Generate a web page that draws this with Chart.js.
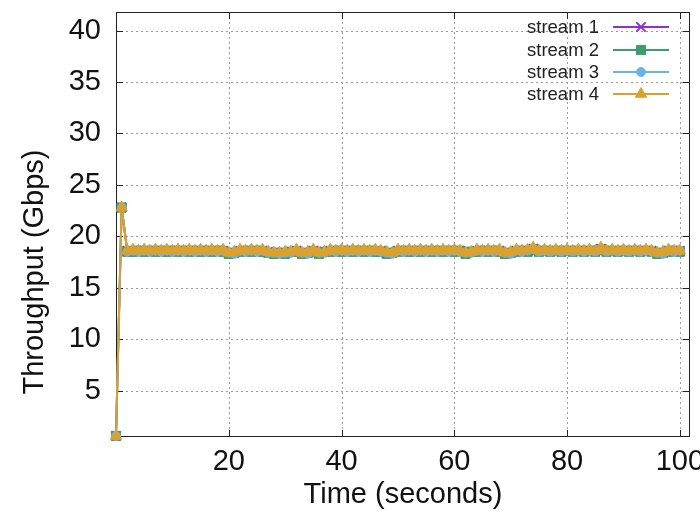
<!DOCTYPE html>
<html><head><meta charset="utf-8">
<script src="https://cdn.jsdelivr.net/npm/chart.js@4.4.1/dist/chart.umd.min.js"></script>
<style>html,body{margin:0;padding:0;background:#fff}</style>
</head><body>
<canvas id="c" width="700" height="513"></canvas>
<script>
const timeSec = [0,1,2,3,4,5,6,7,8,9,10,11,12,13,14,15,16,17,18,19,20,21,22,23,24,25,26,27,28,29,30,31,32,33,34,35,36,37,38,39,40,41,42,43,44,45,46,47,48,49,50,51,52,53,54,55,56,57,58,59,60,61,62,63,64,65,66,67,68,69,70,71,72,73,74,75,76,77,78,79,80,81,82,83,84,85,86,87,88,89,90,91,92,93,94,95,96,97,98,99,100];
const stream1 = [0.6,22.8,18.6,18.6,18.6,18.6,18.6,18.6,18.6,18.6,18.6,18.6,18.6,18.6,18.6,18.6,18.6,18.6,18.6,18.6,18.4,18.4,18.6,18.6,18.6,18.6,18.6,18.5,18.4,18.4,18.4,18.5,18.6,18.4,18.4,18.6,18.4,18.5,18.6,18.6,18.6,18.6,18.6,18.6,18.6,18.6,18.6,18.6,18.4,18.4,18.6,18.6,18.6,18.6,18.6,18.6,18.6,18.6,18.6,18.6,18.6,18.6,18.4,18.5,18.6,18.6,18.6,18.6,18.6,18.4,18.4,18.6,18.6,18.6,18.8,18.6,18.6,18.6,18.6,18.6,18.6,18.6,18.6,18.6,18.6,18.6,18.8,18.6,18.6,18.6,18.6,18.6,18.6,18.6,18.6,18.6,18.4,18.4,18.6,18.6,18.6];
const stream2 = [0.6,22.8,18.5,18.5,18.6,18.5,18.6,18.5,18.6,18.5,18.6,18.5,18.6,18.5,18.6,18.5,18.6,18.5,18.6,18.5,18.3,18.4,18.5,18.6,18.5,18.6,18.5,18.4,18.3,18.4,18.3,18.5,18.5,18.3,18.4,18.5,18.3,18.5,18.5,18.6,18.5,18.6,18.5,18.6,18.5,18.6,18.5,18.5,18.3,18.4,18.5,18.6,18.5,18.6,18.5,18.6,18.5,18.6,18.5,18.6,18.5,18.6,18.3,18.5,18.5,18.6,18.5,18.6,18.5,18.3,18.4,18.5,18.6,18.5,18.7,18.5,18.6,18.5,18.6,18.5,18.6,18.5,18.6,18.5,18.6,18.5,18.7,18.5,18.6,18.5,18.6,18.5,18.6,18.5,18.6,18.5,18.3,18.4,18.5,18.6,18.5];
const stream3 = [0.6,22.8,18.5,18.6,18.5,18.6,18.5,18.6,18.5,18.6,18.5,18.6,18.5,18.6,18.5,18.6,18.5,18.6,18.5,18.6,18.4,18.3,18.6,18.5,18.6,18.5,18.6,18.4,18.4,18.3,18.4,18.4,18.6,18.4,18.3,18.6,18.4,18.4,18.6,18.5,18.6,18.5,18.6,18.5,18.6,18.5,18.6,18.5,18.4,18.3,18.6,18.5,18.6,18.5,18.6,18.5,18.6,18.5,18.6,18.5,18.6,18.5,18.4,18.4,18.6,18.5,18.6,18.5,18.6,18.4,18.3,18.6,18.5,18.6,18.8,18.5,18.6,18.5,18.6,18.5,18.6,18.5,18.6,18.5,18.6,18.5,18.8,18.5,18.6,18.5,18.6,18.5,18.6,18.5,18.6,18.5,18.4,18.3,18.6,18.5,18.6];
const stream4 = [0.6,22.8,18.6,18.7,18.6,18.7,18.6,18.7,18.6,18.7,18.6,18.7,18.6,18.7,18.6,18.7,18.6,18.7,18.6,18.7,18.4,18.5,18.7,18.6,18.7,18.6,18.7,18.5,18.4,18.4,18.5,18.5,18.7,18.4,18.5,18.7,18.4,18.5,18.7,18.6,18.7,18.6,18.7,18.6,18.7,18.6,18.7,18.6,18.5,18.4,18.7,18.6,18.7,18.6,18.7,18.6,18.7,18.6,18.7,18.6,18.7,18.6,18.4,18.5,18.7,18.6,18.7,18.6,18.7,18.4,18.5,18.7,18.6,18.7,18.9,18.6,18.7,18.6,18.7,18.6,18.7,18.6,18.7,18.6,18.7,18.6,18.9,18.6,18.7,18.6,18.7,18.6,18.7,18.6,18.7,18.6,18.4,18.5,18.7,18.6,18.6];
const seriesNames = ['stream 1','stream 2','stream 3','stream 4'];
const xTickValues = [20,40,60,80,100];
const yTickValues = [5,10,15,20,25,30,35,40];
const xTitle = 'Time (seconds)';
const yTitle = 'Throughput (Gbps)';

const colors = ['#8f2fd8','#3f9a6c','#6cb2ea','#dca12d'];
const styles = ['crossRot','rect','circle','triangle'];
const radii = [6.5,6.5,4.5,6.5];
const allSeries = [stream1,stream2,stream3,stream4];

const FONT = '"Liberation Sans", Arial, sans-serif';

const datasets = allSeries.map((s,i)=>({
  label: seriesNames[i],
  data: s.map((v,j)=>({x: timeSec[j], y: v})),
  order: 3 - i,
  clip: false,
  borderColor: colors[i],
  backgroundColor: colors[i],
  pointBackgroundColor: colors[i],
  pointBorderColor: colors[i],
  pointStyle: styles[i],
  pointRadius: radii[i],
  pointBorderWidth: i===0 ? 2 : 1,
  borderWidth: 2,
  tension: 0,
  fill: false
}));

function drawMarker(ctx, style, r, x, y, color, bw){
  ctx.save();
  ctx.fillStyle = color; ctx.strokeStyle = color; ctx.lineWidth = bw;
  if (Chart.helpers && Chart.helpers.drawPoint) {
    Chart.helpers.drawPoint(ctx, {pointStyle: style, radius: r, rotation: 0, borderWidth: bw}, x, y);
  }
  ctx.restore();
}

const framePlugin = {
  id: 'frame',
  beforeDatasetsDraw(chart){
    const {ctx, chartArea: a, scales: {x, y}} = chart;
    ctx.save();
    ctx.strokeStyle = '#9a9a9a'; ctx.lineWidth = 1; ctx.setLineDash([2,3]);
    ctx.beginPath();
    xTickValues.forEach(v => { const p = Math.round(x.getPixelForValue(v)) + 0.5; ctx.moveTo(p, a.top); ctx.lineTo(p, a.bottom); });
    yTickValues.forEach(v => { const p = Math.round(y.getPixelForValue(v)) + 0.5; ctx.moveTo(a.left, p); ctx.lineTo(a.right, p); });
    ctx.stroke();
    ctx.setLineDash([]);
    ctx.strokeStyle = '#222'; ctx.lineWidth = 1;
    ctx.strokeRect(a.left + 0.5, a.top + 0.5, a.right - a.left - 1, a.bottom - a.top - 1);
    ctx.beginPath();
    xTickValues.forEach(v => { const p = Math.round(x.getPixelForValue(v)) + 0.5;
      ctx.moveTo(p, a.bottom); ctx.lineTo(p, a.bottom - 7); ctx.moveTo(p, a.top); ctx.lineTo(p, a.top + 7); });
    yTickValues.forEach(v => { const p = Math.round(y.getPixelForValue(v)) + 0.5;
      ctx.moveTo(a.left, p); ctx.lineTo(a.left + 7, p); ctx.moveTo(a.right, p); ctx.lineTo(a.right - 7, p); });
    ctx.stroke();
    ctx.restore();
  },
  afterDraw(chart){
    const {ctx, chartArea: a} = chart;
    ctx.save();
    // y axis title
    ctx.save();
    ctx.font = '29px ' + FONT;
    ctx.fillStyle = '#111';
    ctx.textAlign = 'center'; ctx.textBaseline = 'middle';
    ctx.translate(35, 272);
    ctx.rotate(-Math.PI / 2);
    ctx.fillText(yTitle, 0, 0);
    ctx.restore();
    // legend
    ctx.font = '18.5px ' + FONT;
    ctx.textAlign = 'right'; ctx.textBaseline = 'middle';
    const rows = [15, 38, 60, 82];
    seriesNames.forEach((name, i) => {
      const yy = a.top + rows[i];
      ctx.fillStyle = '#222';
      ctx.fillText(name, a.right - 91, yy + 1);
      ctx.strokeStyle = colors[i]; ctx.lineWidth = 2;
      ctx.beginPath(); ctx.moveTo(a.right - 77, yy); ctx.lineTo(a.right - 21, yy); ctx.stroke();
      drawMarker(ctx, styles[i], radii[i], a.right - 49, yy, colors[i], i===0 ? 2 : 1);
    });
    ctx.restore();
  }
};

new Chart(document.getElementById('c'), {
  type: 'line',
  data: { datasets },
  plugins: [framePlugin],
  options: {
    responsive: false,
    animation: false,
    devicePixelRatio: 1,
    layout: { padding: { top: 12, right: 10, left: 0, bottom: 0 } },
    plugins: { legend: { display: false }, tooltip: { enabled: false } },
    scales: {
      x: {
        type: 'linear', min: 0, max: 101.8,
        afterBuildTicks: s => { s.ticks = xTickValues.map(v => ({value: v})); },
        afterFit: s => { s.height = 76; s.paddingLeft = 0; s.paddingRight = 0; },
        grid: { display: false, drawTicks: false },
        border: { display: false },
        ticks: { color: '#111', font: { family: FONT, size: 29 }, padding: 8, maxRotation: 0, autoSkip: false },
        title: { display: true, text: xTitle, color: '#111', font: { family: FONT, size: 29, lineHeight: 1.2 }, padding: { top: 0, bottom: 1 } }
      },
      y: {
        type: 'linear', min: 0.5, max: 41.8,
        afterBuildTicks: s => { s.ticks = yTickValues.map(v => ({value: v})); },
        afterFit: s => { s.width = 116; s.paddingTop = 0; s.paddingBottom = 0; },
        grid: { display: false, drawTicks: false },
        border: { display: false },
        ticks: { color: '#111', font: { family: FONT, size: 29 }, padding: 15, autoSkip: false },
        title: { display: false }
      }
    }
  }
});
</script>
</body></html>
